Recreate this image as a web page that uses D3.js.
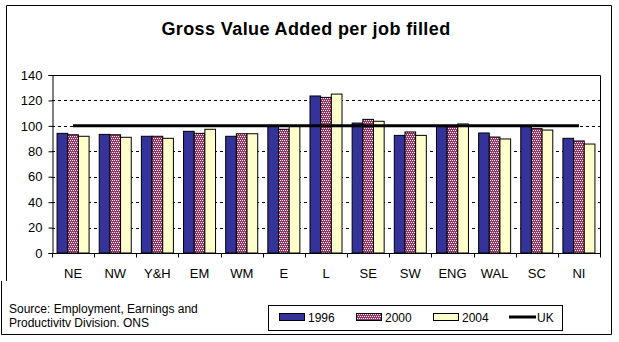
<!DOCTYPE html>
<html>
<head>
<meta charset="utf-8">
<script src="https://cdn.jsdelivr.net/npm/d3@7"></script>
<style>
  html, body { margin: 0; padding: 0; background: #fff; }
  svg { display: block; }
  text { font-family: Arial, "Liberation Sans", sans-serif; fill: #000; }
</style>
</head>
<body>
<svg id="chart" width="619" height="342"></svg>
<script>
// ---- data ----
const categories = ["NE","NW","Y&H","EM","WM","E","L","SE","SW","ENG","WAL","SC","NI"];
const seriesNames = ["1996","2000","2004"];
const values1996 = [94.1, 93.3, 91.8, 95.7, 91.8, 99.6, 123.5, 102.2, 92.5, 99.6, 94.4, 99.6, 90.2];
const values2000 = [93.0, 93.0, 91.8, 94.1, 93.8, 97.3, 122.4, 105.1, 95.2, 99.8, 91.2, 97.8, 88.1];
const values2004 = [91.8, 91.0, 90.2, 97.3, 93.8, 99.8, 125.0, 103.6, 92.5, 101.5, 89.7, 96.7, 85.7];
const ukValues   = [100, 100, 100, 100, 100, 100, 100, 100, 100, 100, 100, 100, 100];
const yTicks = [0, 20, 40, 60, 80, 100, 120, 140];
const titleText = "Gross Value Added per job filled";
const sourceLines = ["Source: Employment, Earnings and", "Productivitv Division. ONS"];

const seriesValues = [values1996, values2000, values2004];

(function () {
const svg = d3.select("#chart");

// pattern for 2000 series
const defs = svg.append("defs");
const pat = defs.append("pattern").attr("id", "checker")
  .attr("patternUnits", "userSpaceOnUse").attr("width", 4).attr("height", 4);
pat.append("rect").attr("width", 4).attr("height", 4).attr("fill", "#993366");
[[0,0],[2,0],[1,2],[3,2]].forEach(p => {
  pat.append("rect").attr("x", p[0]).attr("y", p[1]).attr("width", 1).attr("height", 1).attr("fill", "#ffffff");
});

const fills = ["#333399", "url(#checker)", "#FFFFCC"];

// outer frame
svg.append("path")
  .attr("d", "M6.5,281 L6.5,5.5 L611.5,5.5 L611.5,334.5 L1.5,334.5 L1.5,281")
  .attr("fill", "none").attr("stroke", "#000").attr("stroke-width", 1);

// title
svg.append("text")
  .attr("x", 306).attr("y", 35)
  .attr("text-anchor", "middle")
  .attr("font-size", 18).attr("font-weight", "bold")
  .attr("letter-spacing", 0.4)
  .text(titleText);

// plot area
const pLeft = 52, pRight = 600, pTop = 75, pBottom = 253;

const x = d3.scaleBand().domain(categories).range([pLeft, pRight]).paddingInner(0).paddingOuter(0);
const y = d3.scaleLinear().domain([0, 140]).range([pBottom, pTop]);

const bw = x.bandwidth();
const gapRatio = 0.95;
const barW = bw / (3 + gapRatio);
const x1 = d3.scaleBand().domain(seriesNames)
  .range([barW * gapRatio / 2, barW * gapRatio / 2 + barW * 3]).padding(0);

// gridlines
svg.append("g").selectAll("line")
  .data(yTicks.filter(d => d > 0 && d < 140))
  .join("line")
  .attr("x1", pLeft).attr("x2", pRight)
  .attr("y1", d => Math.round(y(d)) + 0.5).attr("y2", d => Math.round(y(d)) + 0.5)
  .attr("stroke", "#000").attr("stroke-width", 1)
  .attr("stroke-dasharray", "3,3");

// bars
seriesNames.forEach((s, si) => {
  svg.append("g").selectAll("rect")
    .data(categories.map((c, i) => ({ c, v: seriesValues[si][i] })))
    .join("rect")
    .attr("x", d => x(d.c) + x1(s))
    .attr("y", d => y(d.v))
    .attr("width", x1.bandwidth())
    .attr("height", d => y(0) - y(d.v))
    .attr("fill", fills[si])
    .attr("stroke", "#000").attr("stroke-width", 1);
});

// plot border top/right
svg.append("path")
  .attr("d", `M${pLeft},${pTop + 0.5} L${pRight + 0.5},${pTop + 0.5} L${pRight + 0.5},${pBottom}`)
  .attr("fill", "none").attr("stroke", "#000");

// y axis
const yAxis = d3.axisLeft(y).tickValues(yTicks).tickSize(4).tickPadding(6).tickFormat(d3.format("d"));
const gy = svg.append("g").attr("transform", `translate(${pLeft + 0.5},0)`).call(yAxis);
gy.select(".domain").attr("stroke", "#000");
gy.selectAll(".tick line").attr("stroke", "#000");
gy.selectAll("text").attr("font-size", 13).attr("font-family", "Arial, 'Liberation Sans', sans-serif");

// x axis (ticks at category boundaries)
const gx = svg.append("g").attr("transform", `translate(0,${pBottom + 0.5})`);
gx.append("line").attr("x1", pLeft).attr("x2", pRight + 1).attr("y1", 0).attr("y2", 0).attr("stroke", "#000");
gx.selectAll("line.tk")
  .data(categories.concat(["__end"]))
  .join("line").attr("class", "tk")
  .attr("x1", (d, i) => Math.round(i < categories.length ? x(d) : pRight) + 0.5)
  .attr("x2", (d, i) => Math.round(i < categories.length ? x(d) : pRight) + 0.5)
  .attr("y1", 0).attr("y2", 4).attr("stroke", "#000");
gx.selectAll("text")
  .data(categories)
  .join("text")
  .attr("x", d => x(d) + bw / 2)
  .attr("y", 24)
  .attr("text-anchor", "middle")
  .attr("font-size", 13)
  .text(d => d);

// UK line
const line = d3.line().x((d, i) => x(categories[i]) + bw / 2).y(d => y(d));
svg.append("path").datum(ukValues)
  .attr("d", line).attr("fill", "none").attr("stroke", "#000").attr("stroke-width", 3);

// source text
svg.append("g").selectAll("text").data(sourceLines).join("text")
  .attr("x", 9).attr("y", (d, i) => 313 + i * 14)
  .attr("font-size", 12)
  .text(d => d);

// legend
svg.append("rect").attr("x", 268.5).attr("y", 305.5).attr("width", 294).attr("height", 25)
  .attr("fill", "#fff").attr("stroke", "#000");
const legendX = [279, 356, 433];
seriesNames.forEach((s, i) => {
  svg.append("rect").attr("x", legendX[i] + 0.5).attr("y", 313.5).attr("width", 25).attr("height", 7)
    .attr("fill", fills[i]).attr("stroke", "#000");
  svg.append("text").attr("x", legendX[i] + 29).attr("y", 322).attr("font-size", 12).text(s);
});
svg.append("line").attr("x1", 509).attr("x2", 536).attr("y1", 317).attr("y2", 317)
  .attr("stroke", "#000").attr("stroke-width", 3);
svg.append("text").attr("x", 537).attr("y", 322).attr("font-size", 12).text("UK");
})();
</script>
</body>
</html>
